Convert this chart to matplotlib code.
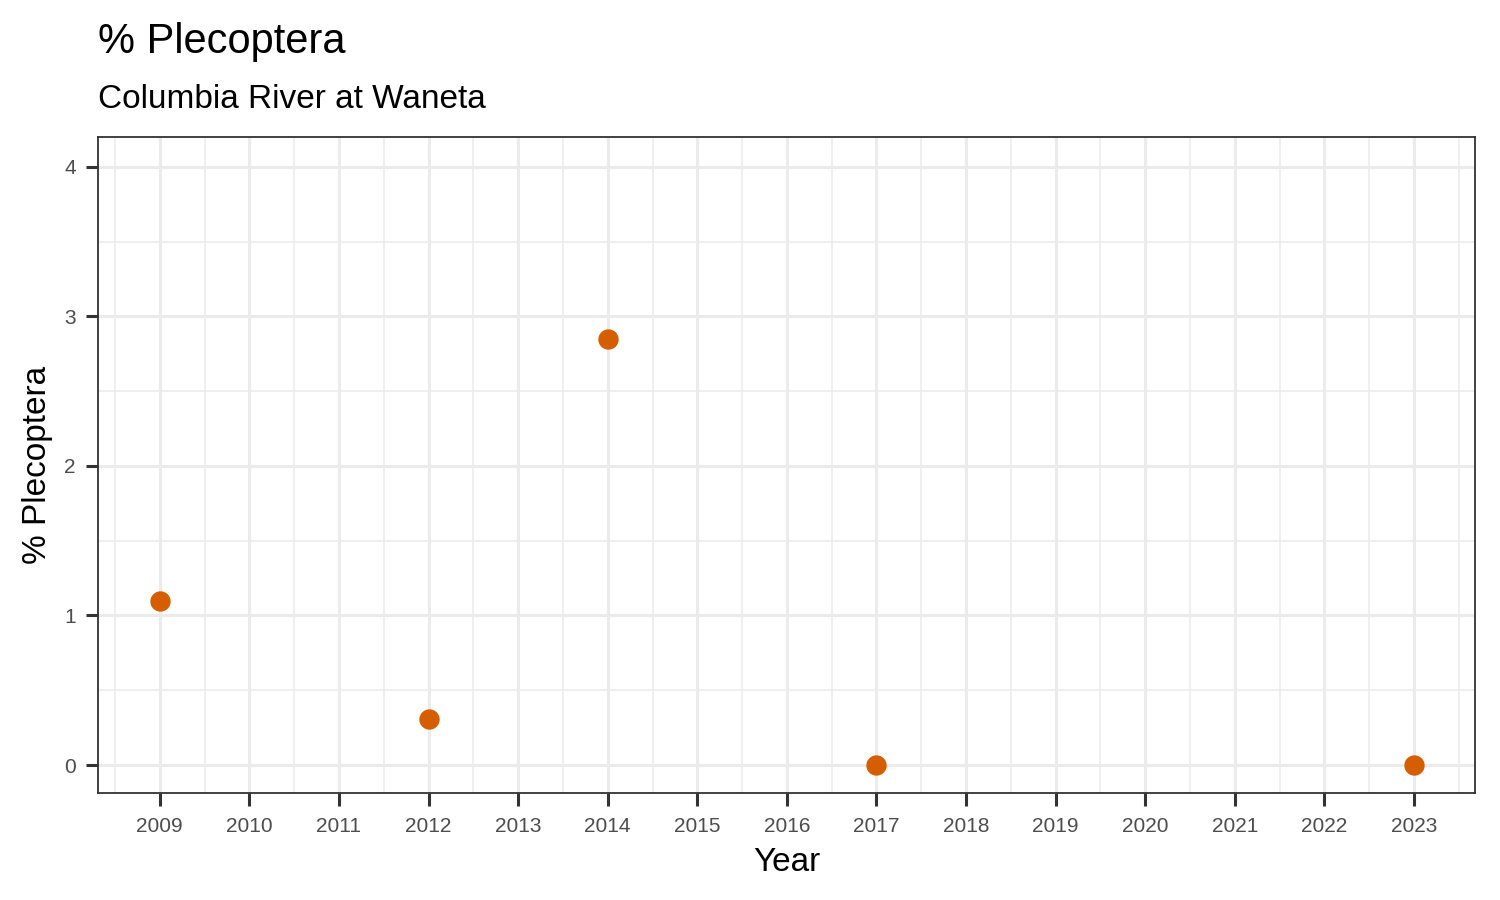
import numpy as np
import matplotlib.pyplot as plt
from matplotlib.ticker import MultipleLocator

plt.rcParams['font.family'] = ['Liberation Sans', 'DejaVu Sans']

years = [2009, 2012, 2014, 2017, 2023]
pct_plecoptera = [1.10, 0.31, 2.85, 0.0, 0.0]
year_ticks = list(range(2009, 2024))
y_ticks = [0, 1, 2, 3, 4]

title = "% Plecoptera"
subtitle = "Columbia River at Waneta"

fig = plt.figure(figsize=(15, 9), dpi=100)
ax = fig.add_axes([0.0653, 0.1189, 0.9180, 0.7289])

ax.set_axisbelow(True)
ax.scatter(years, pct_plecoptera, s=215, color="#D55E00", zorder=3, linewidths=0)

ax.set_xlim(2008.31, 2023.68)
ax.set_ylim(-0.187, 4.2)
ax.set_xticks(year_ticks)
ax.set_xticklabels([str(y) for y in year_ticks])
ax.set_yticks(y_ticks)
ax.xaxis.set_minor_locator(MultipleLocator(0.5))
ax.yaxis.set_minor_locator(MultipleLocator(0.5))

ax.grid(True, which="major", color="#EBEBEB", linewidth=2.2)
ax.grid(True, which="minor", color="#EBEBEB", linewidth=1.1)
ax.tick_params(which="minor", length=0)
ax.tick_params(which="major", length=9, width=2.2, color="#333333",
               labelsize=15, labelcolor="#4D4D4D")
ax.tick_params(axis="x", pad=8)
ax.tick_params(axis="y", pad=7)

for sp in ax.spines.values():
    sp.set_color("#333333")
    sp.set_linewidth(1.3)

ax.set_xlabel("Year", fontsize=24, labelpad=8)
ax.set_ylabel("% Plecoptera", fontsize=24, labelpad=8)

fig.text(0.0653, 0.941, title, fontsize=30, va="baseline", ha="left")
fig.text(0.0653, 0.880, subtitle, fontsize=24, va="baseline", ha="left")

fig.savefig("out.png", dpi=100, facecolor="white")
